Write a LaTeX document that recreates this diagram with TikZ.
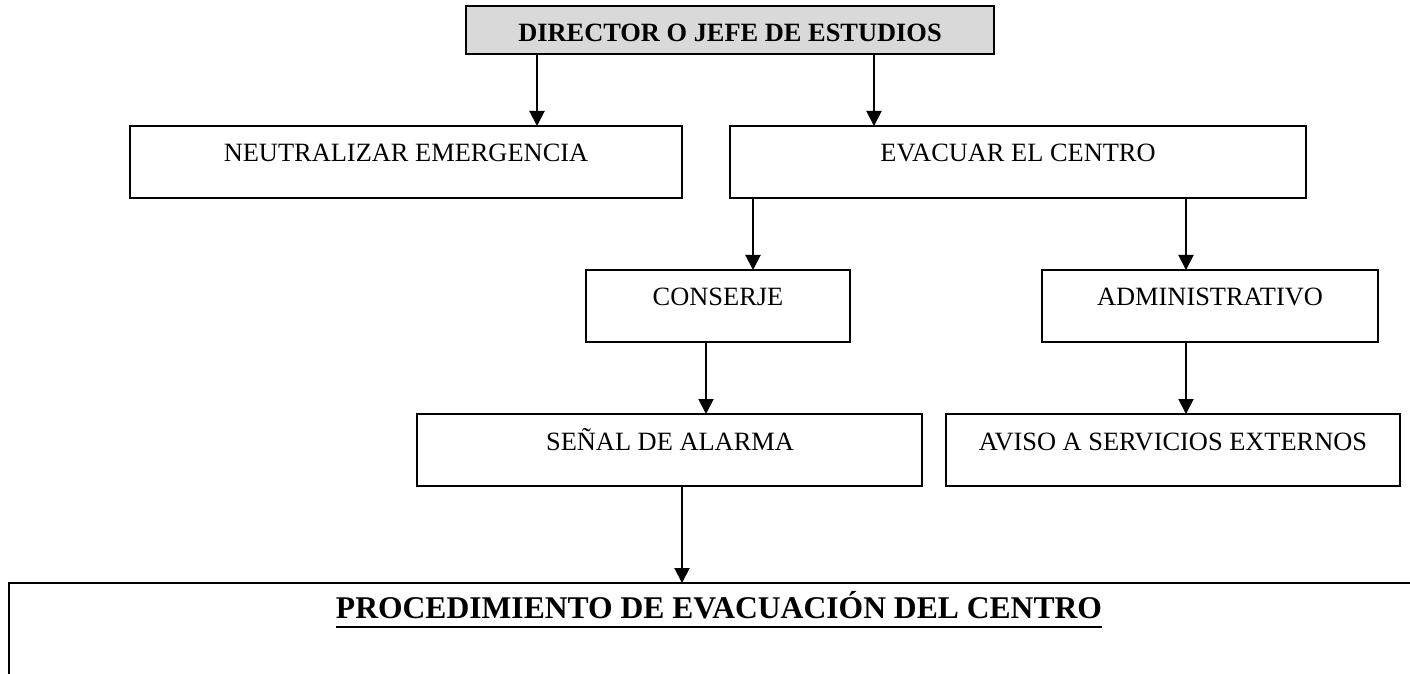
\documentclass[tikz,border=0pt]{standalone}
\usepackage{fontspec}
\setmainfont{Liberation Serif}
\usetikzlibrary{arrows.meta}
\definecolor{hdrgray}{RGB}{217,217,217}
\tikzset{
  boxnode/.style={draw=black, line width=1pt, anchor=north west, inner sep=0pt, outer sep=0pt},
  boxtext/.style={anchor=base, inner sep=0pt, font=\fontsize{13.2}{15}\selectfont},
  boldtext/.style={anchor=base, inner sep=0pt, font=\fontsize{13.2}{15}\selectfont\bfseries},
  titletext/.style={anchor=base, inner sep=0pt, font=\fontsize{15.8}{18}\selectfont\bfseries},
  conn/.style={line width=1pt, -{Triangle[length=7.5pt,width=7.5pt]}},
}
\begin{document}
\begin{tikzpicture}[x=0.5pt,y=-0.5pt]
\useasboundingbox (0,0) rectangle (1410,674);
% boxes
\node[boxnode, fill=hdrgray, minimum width=264pt, minimum height=24pt] (dir) at (466,6) {};
\node[boxnode, minimum width=276pt, minimum height=36pt] (neut) at (130,126) {};
\node[boxnode, minimum width=288pt, minimum height=36pt] (evac) at (730,126) {};
\node[boxnode, minimum width=132pt, minimum height=36pt] (cons) at (586,270) {};
\node[boxnode, minimum width=168pt, minimum height=36pt] (adm) at (1042,270) {};
\node[boxnode, minimum width=252.5pt, minimum height=36pt] (senal) at (417,414) {};
\node[boxnode, minimum width=227pt, minimum height=36pt] (aviso) at (946,414) {};
\node[boxnode, line width=1.2pt, minimum width=760pt, minimum height=100pt] (proc) at (9,583) {};
% texts
\node[boldtext] (dirt) at (730,42) {DIRECTOR O JEFE DE ESTUDIOS};
\node[boxtext] (neutt) at (406,162) {NEUTRALIZAR EMERGENCIA};
\node[boxtext] (evact) at (1018,162) {EVACUAR EL CENTRO};
\node[boxtext] (const) at (718,306) {CONSERJE};
\node[boxtext] (admt) at (1210,306) {ADMINISTRATIVO};
\node[boxtext] (senalt) at (670,450) {SEÑAL DE ALARMA};
\node[boxtext] (avisot) at (1173,450) {AVISO A SERVICIOS EXTERNOS};
\node[titletext] (proct) at (719,618) {PROCEDIMIENTO DE EVACUACIÓN DEL CENTRO};
\draw[line width=1.2pt] ([yshift=-4.5pt]proct.base west) -- ([yshift=-4.5pt]proct.base east);
% connector columns
\coordinate (xa) at (537,0);
\coordinate (xb) at (874,0);
\coordinate (xc) at (753,0);
\coordinate (xd) at (1186,0);
\coordinate (xe) at (706,0);
\coordinate (xf) at (682,0);
% connectors
\draw[conn] (dir.south -| xa) -- (neut.north -| xa);
\draw[conn] (dir.south -| xb) -- (evac.north -| xb);
\draw[conn] (evac.south -| xc) -- (cons.north -| xc);
\draw[conn] (evac.south -| xd) -- (adm.north -| xd);
\draw[conn] (cons.south -| xe) -- (senal.north -| xe);
\draw[conn] (adm.south -| xd) -- (aviso.north -| xd);
\draw[conn] (senal.south -| xf) -- (proc.north -| xf);
\end{tikzpicture}
\end{document}
